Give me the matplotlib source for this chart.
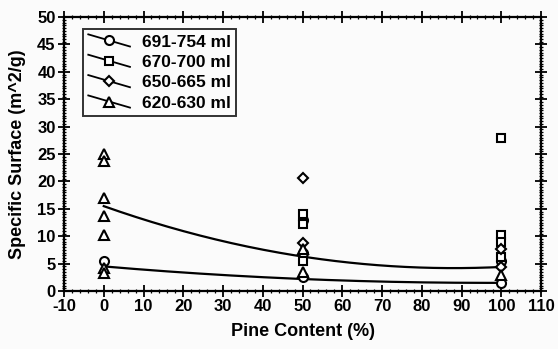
import numpy as np
import matplotlib
matplotlib.use("Agg")
import matplotlib.pyplot as plt
from matplotlib.legend_handler import HandlerLine2D
from matplotlib.lines import Line2D
from matplotlib.ticker import MultipleLocator

plt.rcParams['font.family'] = ['Liberation Sans', 'DejaVu Sans']
plt.rcParams['font.weight'] = 'bold'
plt.rcParams['axes.unicode_minus'] = False

# Particle-size groups (legend labels)
series_labels = ["691-754 ml", "670-700 ml", "650-665 ml", "620-630 ml"]
series_markers = ["o", "s", "D", "^"]

# Pine content (%) and specific surface (m^2/g) per group
circ_x = [0, 50, 50, 50, 100, 100]
circ_y = [5.5, 13.0, 7.0, 2.5, 1.5, 5.5]

sq_x = [50, 50, 50, 100, 100, 100, 100]
sq_y = [14.0, 12.3, 5.5, 27.9, 10.2, 9.0, 6.3]

dia_x = [50, 50, 100, 100]
dia_y = [20.6, 8.7, 7.6, 4.4]

tri_x = [0, 0, 0, 0, 0, 0, 0, 50, 50, 100]
tri_y = [25.0, 23.8, 17.0, 13.7, 10.3, 4.2, 3.3, 7.7, 3.4, 3.0]

# Quadratic fit coefficients (c2, c1, c0) for the two trend curves
fit_upper = [0.00146, -0.257, 15.5]
fit_lower = [0.00032, -0.062, 4.5]

fig = plt.figure(figsize=(5.58, 3.49), dpi=100, facecolor="#fbfbfb")
ax = fig.add_axes([0.1147, 0.166, 0.855, 0.785])
ax.set_facecolor("#fbfbfb")

mk = dict(linestyle="none", markerfacecolor="white", markeredgecolor="black",
          markeredgewidth=1.5, color="black", zorder=3)
groups = [(circ_x, circ_y, 6.5), (sq_x, sq_y, 6.0), (dia_x, dia_y, 5.5), (tri_x, tri_y, 6.5)]
handles = []
for (gx, gy, ms), lab, m in zip(groups, series_labels, series_markers):
    h, = ax.plot(gx, gy, marker=m, markersize=ms, label=lab, **mk)
    handles.append(h)

xs = np.linspace(0, 100, 200)
ax.plot(xs, np.polyval(fit_upper, xs), color="black", lw=1.6, zorder=2)
ax.plot(xs, np.polyval(fit_lower, xs), color="black", lw=1.6, zorder=2)

ax.set_xlim(-10, 110)
ax.set_ylim(0, 50)
ax.xaxis.set_major_locator(MultipleLocator(10))
ax.xaxis.set_minor_locator(MultipleLocator(2))
ax.yaxis.set_major_locator(MultipleLocator(5))
ax.yaxis.set_minor_locator(MultipleLocator(0.5))
ax.tick_params(which="both", direction="inout", top=True, right=True,
               labelsize=12, width=1.3, pad=2)
ax.tick_params(which="major", length=8)
ax.tick_params(which="minor", length=3, width=0.9)
for lbl in ax.get_xticklabels() + ax.get_yticklabels():
    lbl.set_fontweight("bold")
for s in ax.spines.values():
    s.set_linewidth(1.6)

ax.set_xlabel("Pine Content (%)", fontsize=13, fontweight="bold", labelpad=6)
ax.set_ylabel("Specific Surface (m^2/g)", fontsize=13, fontweight="bold", labelpad=8)


class SlantHandler(HandlerLine2D):
    """Legend key: a descending line with the marker at its centre."""
    def create_artists(self, legend, orig_handle, xdescent, ydescent,
                       width, height, fontsize, trans):
        x0, x1 = -xdescent, -xdescent + width
        y0, y1 = -ydescent + height * 1.0, -ydescent + height * 0.0
        line = Line2D([x0, x1], [y0, y1], color="black", lw=1.3, transform=trans)
        mark = Line2D([(x0 + x1) / 2], [(y0 + y1) / 2],
                      marker=orig_handle.get_marker(),
                      markersize=orig_handle.get_markersize(),
                      markerfacecolor="white", markeredgecolor="black",
                      markeredgewidth=1.5, linestyle="none", transform=trans)
        return [line, mark]


leg = ax.legend(handles=handles, loc="upper left", bbox_to_anchor=(0.04, 0.956),
                borderaxespad=0,
                handler_map={Line2D: SlantHandler()}, fontsize=12.5,
                frameon=True, fancybox=False, edgecolor="black",
                handlelength=2.4, handletextpad=0.7, labelspacing=0.3,
                borderpad=0.3)
leg.get_frame().set_linewidth(1.4)
leg.get_frame().set_facecolor("#fbfbfb")
for t in leg.get_texts():
    t.set_fontweight("bold")

fig.savefig("out.png", dpi=100, facecolor=fig.get_facecolor())
